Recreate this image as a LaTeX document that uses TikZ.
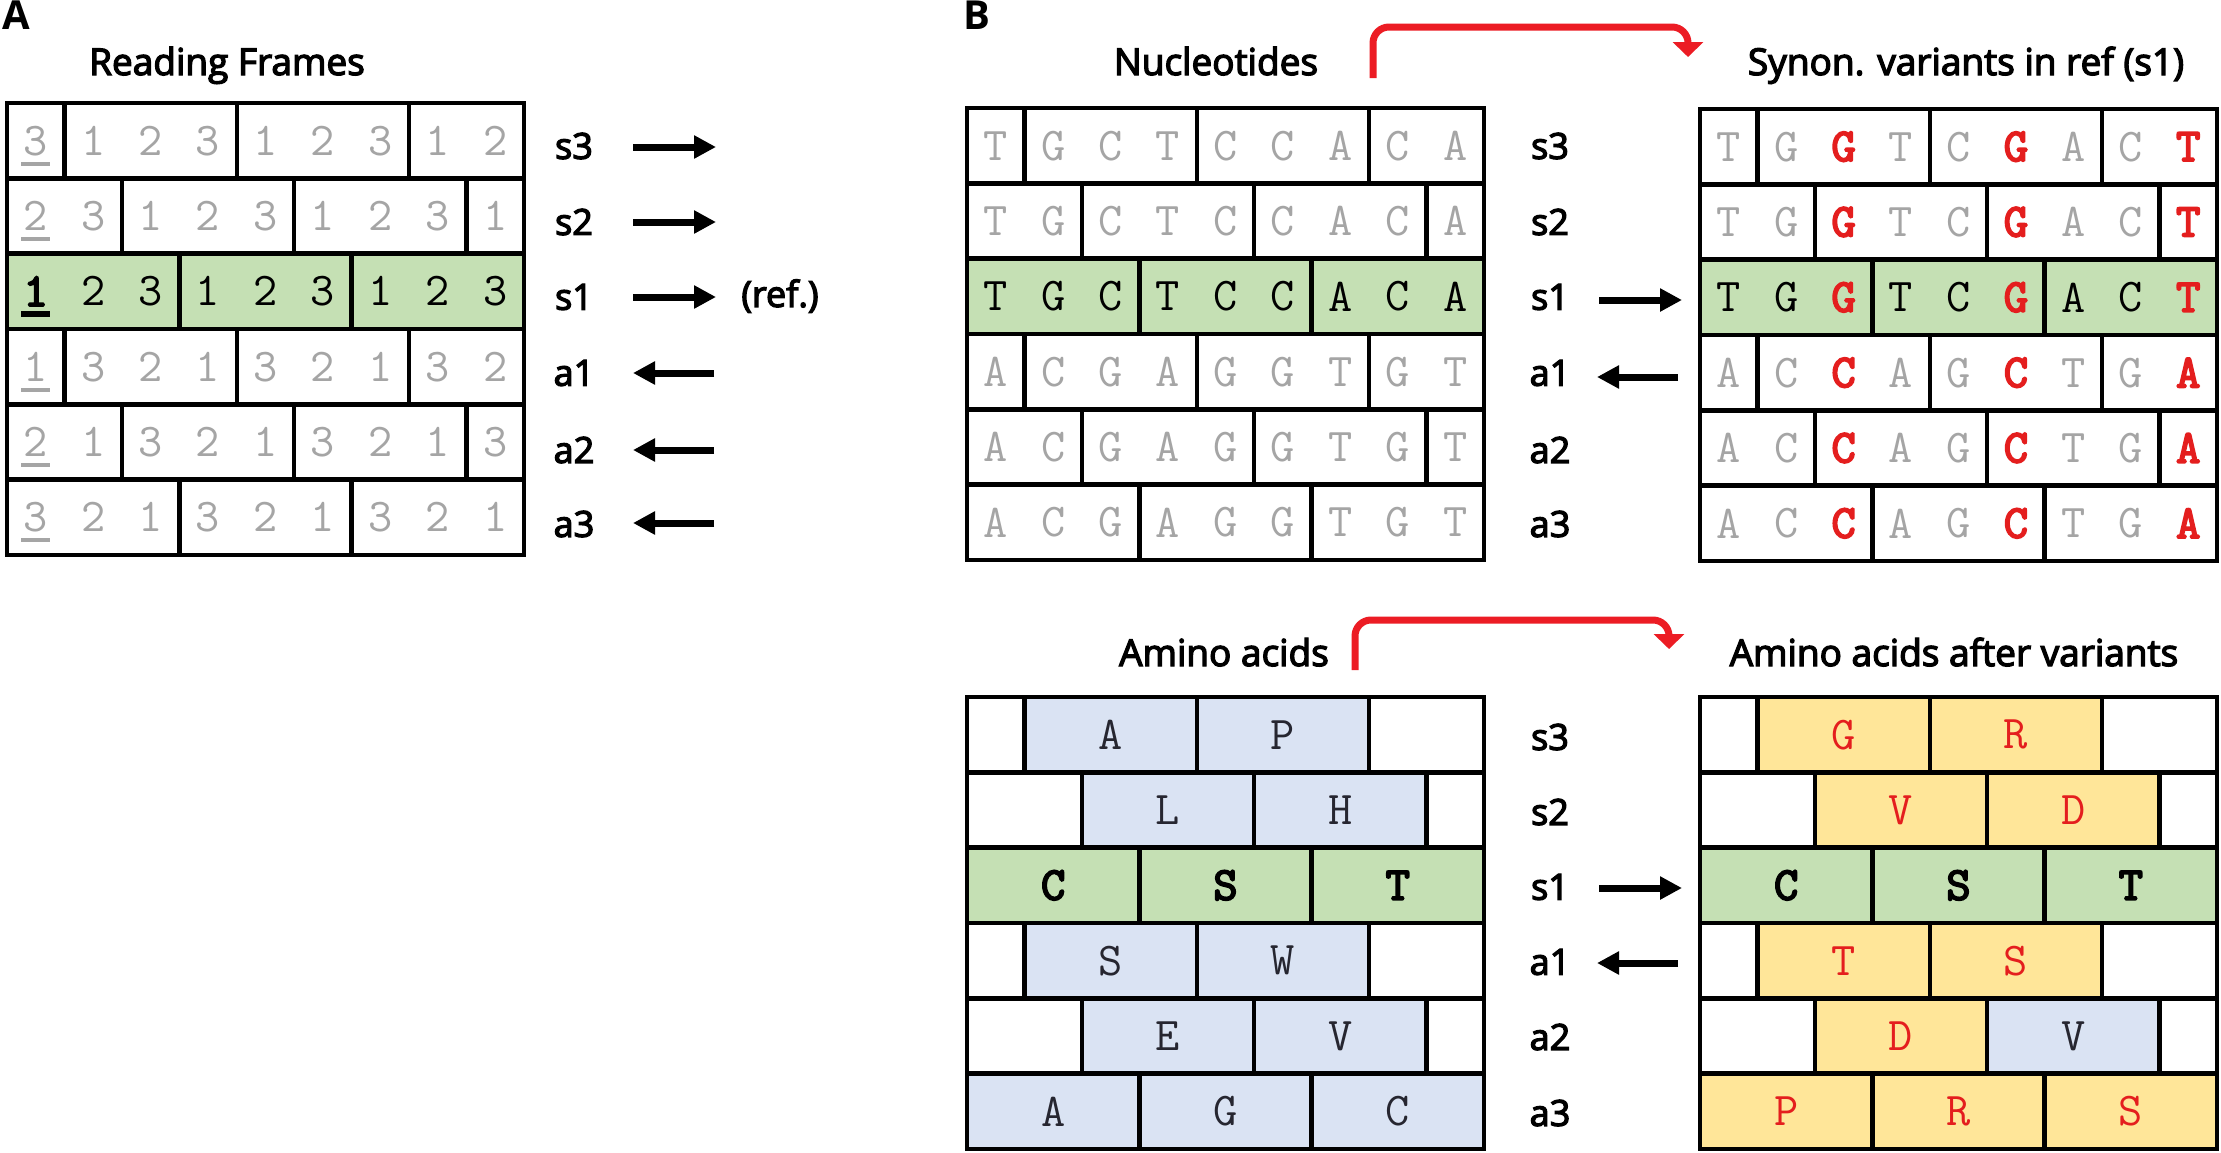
\documentclass[tikz,border=0pt]{standalone}
\usepackage{fontspec}
\setmainfont{Open Sans}
\newfontfamily\labfont{Open Sans}[FakeBold=3.5]
\newfontfamily\monob{Latin Modern Mono}[FakeBold=4]
\usetikzlibrary{arrows.meta}
\pgfdeclarelayer{background}
\pgfsetlayers{background,main}
\definecolor{cgreen}{RGB}{197,224,180}
\definecolor{cblue}{RGB}{218,227,243}
\definecolor{cyellow}{RGB}{255,230,153}
\definecolor{cred}{RGB}{228,30,30}
\definecolor{cgray}{RGB}{165,165,165}
\definecolor{carrow}{RGB}{236,28,36}
\definecolor{aadark}{RGB}{38,38,48}
\def\cw{57.44}
\def\rh{75.33}
\tikzset{
 gridline/.style={draw=black, line width=4.5pt},
 ch/.style={inner sep=0pt, font=\ttfamily\fontsize{47}{47}\selectfont},
 chg/.style={ch, text=cgray},
 chk/.style={ch, text=black},
 chkb/.style={ch, text=black, font=\monob\fontsize{47}{47}\selectfont},
 chr/.style={ch, text=cred, font=\monob\fontsize{47}{47}\selectfont},
 aak/.style={ch, text=aadark},
 aar/.style={ch, text=cred},
 title/.style={inner sep=0pt, anchor=base, font=\labfont\fontsize{37}{40}\selectfont},
 rowlab/.style={inner sep=0pt, anchor=center, font=\labfont\fontsize{36}{40}\selectfont},
 panel/.style={inner sep=0pt, anchor=north west, font=\bfseries\fontsize{40}{40}\selectfont},
 blkarrow/.style={draw=black, line width=7pt, -{Triangle[width=22pt,length=22pt]}},
 redarrow/.style={draw=carrow, line width=7pt, rounded corners=16pt, -{Triangle[width=30pt,length=15pt]}},
 ulg/.style={draw=cgray, line width=4pt},
 ulk/.style={draw=black, line width=6pt},
}
% row of bordered cells: x0, y0, row, list start/end/fill
\newcommand\GRow[4]{%
 \foreach \ca/\cb/\cf in {#4}{%
  \begin{pgfonlayer}{background}
   \fill[fill=\cf] ({#1+\ca*\cw},{#2+#3*\rh}) rectangle ({#1+\cb*\cw},{#2+(#3+1)*\rh});
  \end{pgfonlayer}
  \draw[gridline] ({#1+\ca*\cw},{#2+#3*\rh}) rectangle ({#1+\cb*\cw},{#2+(#3+1)*\rh});
 }}
% row of single characters: name, x0, y0, row, list style/char
\newcommand\SRow[5]{%
 \foreach \cs/\ct [count=\cn from 0] in {#5}{%
  \expandafter\node\expandafter[\cs] (#1-#4-\cn) at ({#2+(\cn+0.5)*\cw},{#3+(#4+0.5)*\rh}) {\ct};
 }}
% row of amino-acid cells: name, x0, y0, row, list start/end/fill/style/text
\newcommand\ARow[5]{%
 \foreach \ca/\cb/\cf/\cs/\ct [count=\cn] in {#5}{%
  \begin{pgfonlayer}{background}
   \fill[fill=\cf] ({#2+\ca*\cw},{#3+#4*\rh}) rectangle ({#2+\cb*\cw},{#3+(#4+1)*\rh});
  \end{pgfonlayer}
  \draw[gridline] ({#2+\ca*\cw},{#3+#4*\rh}) rectangle ({#2+\cb*\cw},{#3+(#4+1)*\rh});
  \expandafter\node\expandafter[\cs] (#1-#4-\cn) at ({#2+(\ca+\cb)/2*\cw},{#3+(#4+0.5)*\rh}) {\ct};
 }}
\begin{document}
\begin{tikzpicture}[x=1pt,y=-1pt]
\useasboundingbox (0,0) rectangle (2221,1152);
\begin{pgfonlayer}{background}
\fill[white] (0,0) rectangle (2221,1152);
\end{pgfonlayer}

% ---------------- Panel A ----------------
\node[panel] (pA) at (2,1) {A};
\node[title] (tRF) at (227,75) {Reading Frames};
\GRow{7}{103}{0}{0/1/white,1/4/white,4/7/white,7/9/white}
\GRow{7}{103}{1}{0/2/white,2/5/white,5/8/white,8/9/white}
\GRow{7}{103}{2}{0/3/cgreen,3/6/cgreen,6/9/cgreen}
\GRow{7}{103}{3}{0/1/white,1/4/white,4/7/white,7/9/white}
\GRow{7}{103}{4}{0/2/white,2/5/white,5/8/white,8/9/white}
\GRow{7}{103}{5}{0/3/white,3/6/white,6/9/white}
\SRow{RF}{7}{103}{0}{chg/3,chg/1,chg/2,chg/3,chg/1,chg/2,chg/3,chg/1,chg/2}
\SRow{RF}{7}{103}{1}{chg/2,chg/3,chg/1,chg/2,chg/3,chg/1,chg/2,chg/3,chg/1}
\SRow{RF}{7}{103}{2}{chkb/1,chk/2,chk/3,chk/1,chk/2,chk/3,chk/1,chk/2,chk/3}
\SRow{RF}{7}{103}{3}{chg/1,chg/3,chg/2,chg/1,chg/3,chg/2,chg/1,chg/3,chg/2}
\SRow{RF}{7}{103}{4}{chg/2,chg/1,chg/3,chg/2,chg/1,chg/3,chg/2,chg/1,chg/3}
\SRow{RF}{7}{103}{5}{chg/3,chg/2,chg/1,chg/3,chg/2,chg/1,chg/3,chg/2,chg/1}
\foreach \r in {0,1,3,4,5}{%
 \draw[ulg] ([xshift=-14.5pt,yshift=-23pt]RF-\r-0.center) -- ([xshift=14.5pt,yshift=-23pt]RF-\r-0.center);}
\draw[ulk] ([xshift=-14.5pt,yshift=-23pt]RF-2-0.center) -- ([xshift=14.5pt,yshift=-23pt]RF-2-0.center);

\foreach \lab/\yy [count=\i] in {s3/146,s2/222,s1/297,a1/373,a2/450,a3/524}{%
 \node[rowlab] (lA\i) at (574,\yy) {\lab};}
\foreach \yy [count=\i] in {147,222,297}{%
 \coordinate (aAs\i) at (633,\yy); \coordinate (aAe\i) at (716,\yy);
 \draw[blkarrow] (aAs\i) -- (aAe\i);}
\foreach \yy [count=\i] in {373,450,523}{%
 \coordinate (bAs\i) at (714,\yy); \coordinate (bAe\i) at (633,\yy);
 \draw[blkarrow] (bAs\i) -- (bAe\i);}
\node[rowlab] (ref) at (780,296) {(ref.)};

% ---------------- Panel B top ----------------
\node[panel] (pB) at (963,1) {B};
\node[title] (tNuc) at (1216,75) {Nucleotides};
\node[title] (tSyn) at (1966,75) {Synon. variants in ref (s1)};

\GRow{967}{108}{0}{0/1/white,1/4/white,4/7/white,7/9/white}
\GRow{967}{108}{1}{0/2/white,2/5/white,5/8/white,8/9/white}
\GRow{967}{108}{2}{0/3/cgreen,3/6/cgreen,6/9/cgreen}
\GRow{967}{108}{3}{0/1/white,1/4/white,4/7/white,7/9/white}
\GRow{967}{108}{4}{0/2/white,2/5/white,5/8/white,8/9/white}
\GRow{967}{108}{5}{0/3/white,3/6/white,6/9/white}
\SRow{NU}{967}{108}{0}{chg/T,chg/G,chg/C,chg/T,chg/C,chg/C,chg/A,chg/C,chg/A}
\SRow{NU}{967}{108}{1}{chg/T,chg/G,chg/C,chg/T,chg/C,chg/C,chg/A,chg/C,chg/A}
\SRow{NU}{967}{108}{2}{chk/T,chk/G,chk/C,chk/T,chk/C,chk/C,chk/A,chk/C,chk/A}
\SRow{NU}{967}{108}{3}{chg/A,chg/C,chg/G,chg/A,chg/G,chg/G,chg/T,chg/G,chg/T}
\SRow{NU}{967}{108}{4}{chg/A,chg/C,chg/G,chg/A,chg/G,chg/G,chg/T,chg/G,chg/T}
\SRow{NU}{967}{108}{5}{chg/A,chg/C,chg/G,chg/A,chg/G,chg/G,chg/T,chg/G,chg/T}

\GRow{1700}{109}{0}{0/1/white,1/4/white,4/7/white,7/9/white}
\GRow{1700}{109}{1}{0/2/white,2/5/white,5/8/white,8/9/white}
\GRow{1700}{109}{2}{0/3/cgreen,3/6/cgreen,6/9/cgreen}
\GRow{1700}{109}{3}{0/1/white,1/4/white,4/7/white,7/9/white}
\GRow{1700}{109}{4}{0/2/white,2/5/white,5/8/white,8/9/white}
\GRow{1700}{109}{5}{0/3/white,3/6/white,6/9/white}
\SRow{SY}{1700}{109}{0}{chg/T,chg/G,chr/G,chg/T,chg/C,chr/G,chg/A,chg/C,chr/T}
\SRow{SY}{1700}{109}{1}{chg/T,chg/G,chr/G,chg/T,chg/C,chr/G,chg/A,chg/C,chr/T}
\SRow{SY}{1700}{109}{2}{chk/T,chk/G,chr/G,chk/T,chk/C,chr/G,chk/A,chk/C,chr/T}
\SRow{SY}{1700}{109}{3}{chg/A,chg/C,chr/C,chg/A,chg/G,chr/C,chg/T,chg/G,chr/A}
\SRow{SY}{1700}{109}{4}{chg/A,chg/C,chr/C,chg/A,chg/G,chr/C,chg/T,chg/G,chr/A}
\SRow{SY}{1700}{109}{5}{chg/A,chg/C,chr/C,chg/A,chg/G,chr/C,chg/T,chg/G,chr/A}

\foreach \lab/\yy [count=\i] in {s3/146,s2/222,s1/297,a1/373,a2/450,a3/524}{%
 \node[rowlab] (lB\i) at (1550,\yy) {\lab};}
\coordinate (aB1s) at (1599,300); \coordinate (aB1e) at (1682,300);
\draw[blkarrow] (aB1s) -- (aB1e);
\coordinate (aB2s) at (1678,377); \coordinate (aB2e) at (1597,377);
\draw[blkarrow] (aB2s) -- (aB2e);

\coordinate (r1s) at (1373,78); \coordinate (r1a) at (1373,27);
\coordinate (r1b) at (1688,27); \coordinate (r1e) at (1688,57);
\draw[redarrow] (r1s) -- (r1a) -- (r1b) -- (r1e);

% ---------------- Panel B bottom ----------------
\node[title] (tAA) at (1224,666) {Amino acids};
\node[title] (tAAv) at (1954,666) {Amino acids after variants};

\ARow{AA}{967}{697}{0}{0/1/white/aak/{},1/4/cblue/aak/A,4/7/cblue/aak/P,7/9/white/aak/{}}
\ARow{AA}{967}{697}{1}{0/2/white/aak/{},2/5/cblue/aak/L,5/8/cblue/aak/H,8/9/white/aak/{}}
\ARow{AA}{967}{697}{2}{0/3/cgreen/chkb/C,3/6/cgreen/chkb/S,6/9/cgreen/chkb/T}
\ARow{AA}{967}{697}{3}{0/1/white/aak/{},1/4/cblue/aak/S,4/7/cblue/aak/W,7/9/white/aak/{}}
\ARow{AA}{967}{697}{4}{0/2/white/aak/{},2/5/cblue/aak/E,5/8/cblue/aak/V,8/9/white/aak/{}}
\ARow{AA}{967}{697}{5}{0/3/cblue/aak/A,3/6/cblue/aak/G,6/9/cblue/aak/C}

\ARow{AV}{1700}{697}{0}{0/1/white/aak/{},1/4/cyellow/aar/G,4/7/cyellow/aar/R,7/9/white/aak/{}}
\ARow{AV}{1700}{697}{1}{0/2/white/aak/{},2/5/cyellow/aar/V,5/8/cyellow/aar/D,8/9/white/aak/{}}
\ARow{AV}{1700}{697}{2}{0/3/cgreen/chkb/C,3/6/cgreen/chkb/S,6/9/cgreen/chkb/T}
\ARow{AV}{1700}{697}{3}{0/1/white/aak/{},1/4/cyellow/aar/T,4/7/cyellow/aar/S,7/9/white/aak/{}}
\ARow{AV}{1700}{697}{4}{0/2/white/aak/{},2/5/cyellow/aar/D,5/8/cblue/aak/V,8/9/white/aak/{}}
\ARow{AV}{1700}{697}{5}{0/3/cyellow/aar/P,3/6/cyellow/aar/R,6/9/cyellow/aar/S}

\foreach \lab/\yy [count=\i] in {s3/737,s2/812,s1/887,a1/962,a2/1037,a3/1113}{%
 \node[rowlab] (lC\i) at (1550,\yy) {\lab};}
\coordinate (aC1s) at (1599,888); \coordinate (aC1e) at (1682,888);
\draw[blkarrow] (aC1s) -- (aC1e);
\coordinate (aC2s) at (1678,963); \coordinate (aC2e) at (1597,963);
\draw[blkarrow] (aC2s) -- (aC2e);

\coordinate (r2s) at (1355,670); \coordinate (r2a) at (1355,620);
\coordinate (r2b) at (1669,620); \coordinate (r2e) at (1669,649);
\draw[redarrow] (r2s) -- (r2a) -- (r2b) -- (r2e);
\end{tikzpicture}
\end{document}
